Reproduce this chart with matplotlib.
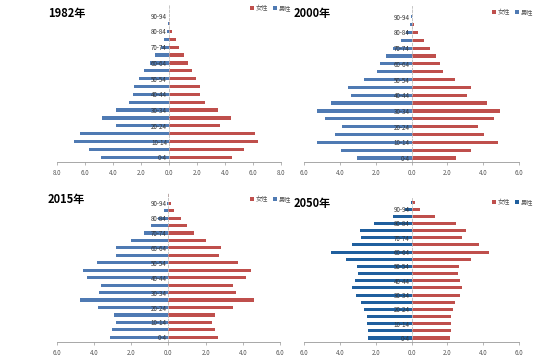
import numpy as np
import matplotlib
matplotlib.use('Agg')
import matplotlib.pyplot as plt

plt.rcParams['font.family'] = ['Noto Sans CJK SC', 'DejaVu Sans']

age_labels = ['0-4', '5-9', '10-14', '15-19', '20-24', '25-29', '30-34', '35-39',
              '40-44', '45-49', '50-54', '55-59', '60-64', '65-69', '70-74',
              '75-79', '80-84', '85-89', '90-94', '95+']

# percent of population, youngest group first
male_1982 = [4.89, 5.71, 6.76, 6.38, 3.81, 4.80, 3.81, 2.88, 2.59, 2.52,
             2.13, 1.75, 1.37, 1.01, 0.60, 0.36, 0.17, 0.05, 0.02]
female_1982 = [4.53, 5.37, 6.33, 6.14, 3.62, 4.41, 3.48, 2.54, 2.25, 2.18,
               1.92, 1.61, 1.34, 1.10, 0.74, 0.50, 0.22, 0.10, 0.03]

male_2000 = [3.04, 3.91, 5.26, 4.28, 3.87, 4.85, 5.28, 4.52, 3.39, 3.54,
             2.63, 1.94, 1.74, 1.41, 1.02, 0.59, 0.28, 0.06, 0.02]
female_2000 = [2.48, 3.33, 4.80, 4.04, 3.72, 4.59, 4.94, 4.24, 3.11, 3.33,
               2.41, 1.76, 1.57, 1.35, 1.02, 0.67, 0.37, 0.15, 0.03]

male_2015 = [3.14, 3.02, 2.82, 2.94, 3.81, 4.76, 3.75, 3.61, 4.40, 4.60,
             3.84, 2.85, 2.85, 2.01, 1.31, 0.92, 0.56, 0.25, 0.07, 0.01]
female_2015 = [2.69, 2.50, 2.35, 2.51, 3.48, 4.61, 3.63, 3.46, 4.18, 4.43,
               3.73, 2.73, 2.82, 2.01, 1.35, 1.01, 0.65, 0.29, 0.11, 0.02]

male_2050 = [2.41, 2.44, 2.48, 2.50, 2.63, 2.80, 3.07, 3.30, 3.13, 2.98,
             3.02, 3.67, 4.48, 3.33, 2.81, 2.85, 2.11, 1.04, 0.37, 0.04]
female_2050 = [2.17, 2.22, 2.22, 2.22, 2.30, 2.43, 2.69, 2.81, 2.69, 2.57,
               2.63, 3.33, 4.30, 3.74, 2.81, 3.04, 2.50, 1.31, 0.50, 0.19]

panels = [
    # title, male, female, xmax, rect, ylim, title pos, legend pos, male colour
    ('1982年', male_1982, female_1982, 8, [0.1036, 0.5449, 0.4073, 0.441],
     (-0.6, 19.36), (48, 13), (247, 8), '#4f7ab3'),
    ('2000年', male_2000, female_2000, 6, [0.5527, 0.5449, 0.391, 0.438],
     (-0.51, 19.36), (294, 13), (489, 12), '#4f7ab3'),
    ('2015年', male_2015, female_2015, 6, [0.1036, 0.0393, 0.4055, 0.4185],
     (-0.63, 19.36), (48, 199), (247, 199), '#4f7ab3'),
    ('2050年', male_2050, female_2050, 6, [0.5527, 0.0393, 0.391, 0.4045],
     (-0.56, 19.56), (294, 204), (489, 202), '#1f5f9e'),
]

W, H = 550, 356
fig = plt.figure(figsize=(5.5, 3.56), dpi=100)

for title, male, female, xmax, rect, ylim, tpos, lpos, mcol in panels:
    ax = fig.add_axes(rect)
    n = len(male)
    y = np.arange(n)
    hf = ax.barh(y, female, height=0.42, color='#bf4f4c', label='女性')
    hm = ax.barh(y, -np.array(male), height=0.42, color=mcol, label='男性')
    ax.set_xlim(-xmax, xmax)
    ax.set_ylim(*ylim)
    for s in ['top', 'right']:
        ax.spines[s].set_visible(False)
    ax.spines['left'].set_position(('data', 0))
    ax.spines['left'].set_linestyle((0, (3, 2)))
    ax.spines['left'].set_color('#bbbbbb')
    ax.spines['left'].set_linewidth(0.6)
    ax.spines['bottom'].set_color('#999999')
    ax.spines['bottom'].set_linewidth(0.6)

    xt = np.arange(-xmax, xmax + 1, 2)
    ax.set_xticks(xt)
    ax.set_xticklabels(['%.1f' % abs(v) for v in xt], fontsize=4.5, color='#555555')
    ax.set_yticks(y[::2])
    ax.set_yticklabels(age_labels[:n:2], fontsize=4.5, color='#333333')
    ax.tick_params(axis='y', length=0, pad=1.5)
    ax.tick_params(axis='x', length=2, width=0.5, color='#999999', pad=3)

    fig.text(tpos[0] / W, 1 - tpos[1] / H, title, fontsize=8, fontweight='bold',
             ha='left', va='center')
    fig.legend(handles=[hf, hm], loc='center left',
               bbox_to_anchor=(lpos[0] / W, 1 - lpos[1] / H), ncol=2,
               frameon=False, fontsize=4.5, handlelength=0.6, handleheight=0.6,
               handletextpad=0.3, columnspacing=0.8, borderpad=0,
               labelcolor='#555555')

fig.savefig('out.png', dpi=100, facecolor='white')
